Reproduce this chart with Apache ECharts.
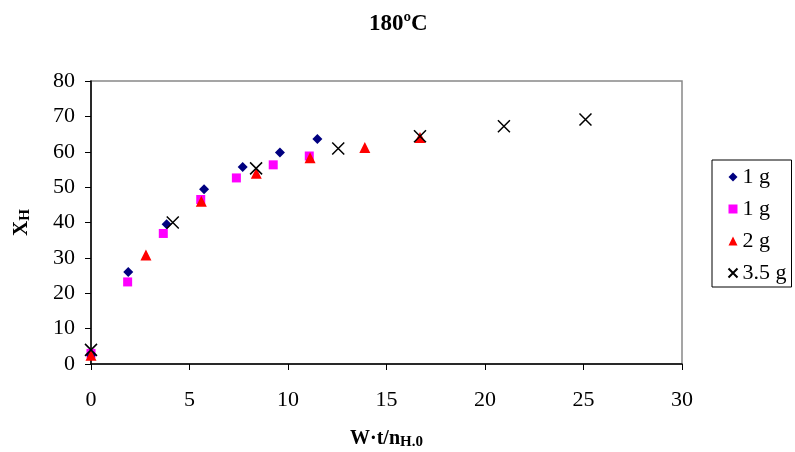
<!DOCTYPE html>
<html><head><meta charset="utf-8">
<script src="https://cdn.jsdelivr.net/npm/echarts@6/dist/echarts.min.js"></script>
<style>html,body{margin:0;padding:0;background:#fff}#c{width:795px;height:452px}</style>
</head><body><div id="c"></div>
<script>
const titleText = '180ºC';
const seriesNames = ['1 g', '1 g', '2 g', '3.5 g'];
const s1x = [0, 1.89, 3.84, 5.74, 7.70, 9.59, 11.49];
const s1y = [2.5, 26.0, 39.5, 49.4, 55.7, 59.8, 63.6];
const s2x = [0, 1.86, 3.67, 5.57, 7.38, 9.25, 11.08];
const s2y = [3.0, 23.2, 36.9, 46.5, 52.6, 56.3, 58.8];
const s3x = [0, 2.79, 5.60, 8.39, 11.12, 13.90, 16.70];
const s3y = [2.5, 30.8, 46.0, 53.9, 58.3, 61.2, 64.0];
const s4x = [0, 4.15, 8.38, 12.55, 16.70, 20.96, 25.10];
const s4y = [4.0, 40.0, 55.3, 60.9, 64.4, 67.2, 69.1];

const zip = (xs, ys) => xs.map((x, i) => [x, ys[i]]);
const font = 'Liberation Serif, Times New Roman, serif';
const chart = echarts.init(document.getElementById('c'));
chart.setOption({
  animation: false,
  backgroundColor: '#fff',
  title: { text: titleText, left: 364, top: 8,
    textStyle: { fontFamily: font, fontWeight: 'bold', fontSize: 23, color: '#000' } },
  grid: { left: 91, right: 113, top: 81, bottom: 88, outerBoundsMode: 'none', containLabel: false,
    show: true, borderColor: '#888', borderWidth: 1.5, backgroundColor: 'transparent' },
  legend: {
    orient: 'vertical', left: 712, top: 160,
    padding: [6, 5, 3, 14], itemGap: 10, itemWidth: 9, itemHeight: 9,
    borderColor: '#000', borderWidth: 1,
    textStyle: { fontFamily: font, fontSize: 22, lineHeight: 22, color: '#000' },
    data: [
      { name: 's1' }, { name: 's2' }, { name: 's3' }, { name: 's4' }
    ],
    formatter: n => seriesNames[+n.slice(1) - 1]
  },
  xAxis: {
    type: 'value', min: 0, max: 30, interval: 5,
    axisLine: { lineStyle: { color: '#000', width: 1.5 } },
    axisTick: { show: true, length: 6, lineStyle: { color: '#000' } },
    splitLine: { show: false },
    axisLabel: { margin: 25, fontFamily: font, fontSize: 22, color: '#000' },
    name: '{a|W·t/n}{b|H.0}', nameLocation: 'middle', nameGap: 63,
    nameTextStyle: { rich: {
      a: { fontFamily: font, fontWeight: 'bold', fontSize: 20, color: '#000' },
      b: { fontFamily: font, fontWeight: 'bold', fontSize: 15, color: '#000', padding: [8, 0, 0, 0] }
    } }
  },
  yAxis: {
    type: 'value', min: 0, max: 80, interval: 10,
    axisLine: { show: true, lineStyle: { color: '#000', width: 1.5 } },
    axisTick: { show: true, length: 6, lineStyle: { color: '#000' } },
    splitLine: { show: false },
    axisLabel: { margin: 16, fontFamily: font, fontSize: 22, color: '#000' },
    name: '{a|X}{b|H}', nameLocation: 'middle', nameGap: 58,
    nameTextStyle: { rich: {
      a: { fontFamily: font, fontWeight: 'bold', fontSize: 21, color: '#000' },
      b: { fontFamily: font, fontWeight: 'bold', fontSize: 15, color: '#000', padding: [8, 0, 0, 0] }
    } }
  },
  series: [
    { name: 's1', type: 'scatter', symbol: 'diamond', symbolSize: 10, data: zip(s1x, s1y), itemStyle: { color: '#000080', opacity: 1 }, z: 4 },
    { name: 's2', type: 'scatter', symbol: 'rect', symbolSize: 9, data: zip(s2x, s2y), itemStyle: { color: '#ff00ff', opacity: 1 }, z: 3 },
    { name: 's3', type: 'scatter', symbol: 'triangle', symbolSize: 11, data: zip(s3x, s3y), itemStyle: { color: '#ff0000', opacity: 1 }, z: 5 },
    { name: 's4', type: 'scatter', symbol: 'path://M0,0L10,10M10,0L0,10', symbolSize: 12, data: zip(s4x, s4y),
      itemStyle: { color: 'none', borderColor: '#000', borderWidth: 1.5, opacity: 1 }, z: 6 }
  ]
});
</script></body></html>
